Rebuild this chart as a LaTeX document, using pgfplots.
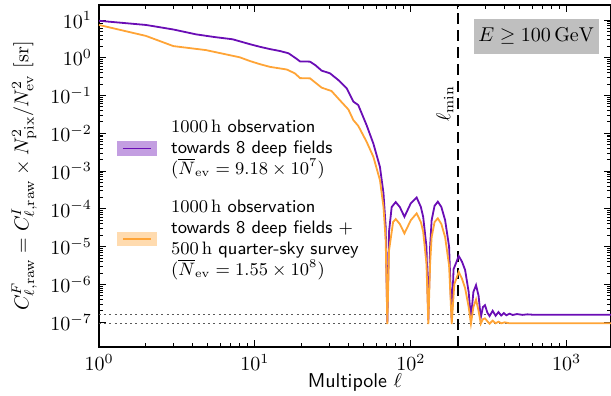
\documentclass[border=0pt]{standalone}
\usepackage{pgfplots}
\pgfplotsset{compat=1.18}
\definecolor{cpurple}{HTML}{6A0DB5}
\definecolor{corange}{HTML}{FFA436}

\begin{document}
\begin{tikzpicture}
\path[use as bounding box] (-49.5pt,-24.5pt) rectangle (256pt,173.5pt);
\begin{axis}[
  scale only axis, width=256pt, height=171pt,
  xmode=log, ymode=log,
  xmin=1, xmax=1923, ymin=2.2e-8, ymax=25,
  xtick={1,10,100,1000},
  ytick={1e-7,1e-6,1e-5,1e-4,1e-3,1e-2,1e-1,1,10},
  axis line style={line width=0.8pt},
  tick align=inside, xtick pos=both, ytick pos=both,
  major tick length=3.5pt, minor tick length=2pt,
  every tick/.style={black, line width=0.5pt},
  xlabel={\textsf{Multipole} $\ell$},
  xlabel style={yshift=5pt},
  ylabel={$C^{F}_{\ell,\mathrm{raw}} = C^{I}_{\ell,\mathrm{raw}} \times N^2_{\mathrm{pix}}/N^2_{\mathrm{ev}}\ [\mathrm{sr}]$},
  legend style={at={(0.035,0.666)}, anchor=north west, draw=none, fill=none,
    inner sep=0pt, row sep=11pt, column sep=7pt,
    font=\fontsize{9}{10.6}\selectfont,
    nodes={inner sep=0pt}, cells={align=left, anchor=west}},
  legend cell align=left,
]
\addplot[gray!70!black, line width=0.6pt, dash pattern=on 1pt off 1.6pt, forget plot] coordinates {(1,1.58e-7) (1923,1.58e-7)};
\addplot[gray!70!black, line width=0.6pt, dash pattern=on 1pt off 1.6pt, forget plot] coordinates {(1,9.35e-8) (1923,9.35e-8)};
\addplot[black, line width=1pt, dash pattern=on 5.5pt off 3pt, forget plot] coordinates {(200,2.2e-8) (200,25)};

\addplot[cpurple, line width=0.9pt,
  legend image code/.code={\fill[cpurple!40!white] (0pt,-3.25pt) rectangle (19pt,3.25pt);
    \draw[cpurple, line width=0.9pt] (2.5pt,0pt) -- (16.5pt,0pt);}]
coordinates {
(1,9.55) (2,7.41) (3,5.62) (4.2,4.17) (5.5,3.55) (7.2,3.09) (9.3,2.29) (10.8,1.95)
(12.5,1.70) (14.5,1.51) (16.4,1.32) (18,1.02) (19.5,0.80) (21,0.80) (22.6,0.79)
(24.5,0.631) (26.8,0.457) (30.3,0.389) (34.3,0.257) (38.8,0.155) (42.8,0.0692)
(46,0.0562) (52,0.0166) (57.5,5.37e-3) (63.4,1.29e-3) (66.8,2.57e-4) (69,3.31e-5)
(70.7,1.0e-7) (72.5,2.51e-5) (75.4,1.12e-4) (80,1.51e-4) (85,1.12e-4) (91,6.17e-5)
(100,1.41e-4) (109,2.0e-4) (116,1.12e-4) (120,6.17e-5) (126,1.0e-5) (129.5,1.12e-7)
(133,1.0e-5) (136,5.01e-5) (142,1.20e-4) (149,1.55e-4) (157,1.12e-4) (166,5.01e-5)
(176,1.0e-5) (183,1.12e-7) (188,2.51e-6) (203,5.62e-6) (213,3.98e-6) (223,2.40e-6)
(235,6.31e-7) (243,1.26e-7) (252,6.31e-7) (262,9.55e-7) (272,5.01e-7) (281,1.32e-7)
(290,2.51e-7) (299,2.82e-7) (310,1.78e-7) (320,1.45e-7) (335,2.0e-7) (350,1.48e-7)
(365,1.85e-7) (380,1.50e-7) (395,1.74e-7) (410,1.52e-7) (430,1.68e-7) (450,1.55e-7)
(480,1.64e-7) (520,1.56e-7) (560,1.61e-7) (600,1.58e-7) (1923,1.58e-7)
};
\addlegendentry{$1000\,\mathrm{h}$ \textsf{observation}\\\textsf{towards 8 deep fields}\\$(\overline{N}_{\mathrm{ev}} = 9.18\times 10^{7})$}

\addplot[corange, line width=0.9pt,
  legend image code/.code={\fill[corange!40!white] (0pt,-3.25pt) rectangle (19pt,3.25pt);
    \draw[corange, line width=0.9pt] (2.5pt,0pt) -- (16.5pt,0pt);}]
coordinates {
(1,7.41) (2,3.80) (3,2.04) (4.85,1.60) (8,1.03) (9.3,0.820) (10.8,0.676) (12.5,0.575)
(16,0.490) (18,0.39) (19.5,0.29) (22.6,0.285) (26.8,0.162) (31,0.132) (35,0.0759)
(39.8,0.0427) (42.8,0.0224) (46,0.0158) (52,6.03e-3) (57.5,2.40e-3) (63.4,5.75e-4)
(66.8,1.12e-4) (69,1.48e-5) (70.7,8.91e-8) (72.5,7.94e-6) (77,4.47e-5) (80,5.37e-5)
(85,3.98e-5) (91,2.24e-5) (100,5.01e-5) (109,7.59e-5) (116,4.47e-5) (120,2.51e-5)
(126,3.55e-6) (129.5,8.91e-8) (133,3.55e-6) (136,1.78e-5) (142,4.47e-5) (149,5.62e-5)
(157,3.98e-5) (166,1.78e-5) (176,3.16e-6) (183,8.91e-8) (190,1.0e-6) (203,2.14e-6)
(213,1.41e-6) (223,7.94e-7) (235,2.51e-7) (243,9.12e-8) (252,2.51e-7) (262,3.98e-7)
(272,2.0e-7) (281,9.12e-8) (290,1.20e-7) (299,1.26e-7) (310,1.05e-7) (320,9.12e-8)
(335,1.10e-7) (350,9.33e-8) (365,1.03e-7) (380,9.33e-8) (400,9.9e-8) (430,9.33e-8)
(1923,9.35e-8)
};
\addlegendentry{$1000\,\mathrm{h}$ \textsf{observation}\\\textsf{towards 8 deep fields} $+$\\$500\,\mathrm{h}$ \textsf{quarter-sky survey}\\$(\overline{N}_{\mathrm{ev}} = 1.55\times 10^{8})$}

\node[rotate=90, anchor=south, inner sep=2pt] at (axis cs:200,6e-2) {$\ell_{\min}$};
\node[fill=black!25, minimum width=62.5pt, minimum height=17.5pt, inner sep=0pt] at (rel axis cs:0.854,0.908) {$E \geq 100\,\mathrm{GeV}$};
\end{axis}
\end{tikzpicture}
\end{document}
